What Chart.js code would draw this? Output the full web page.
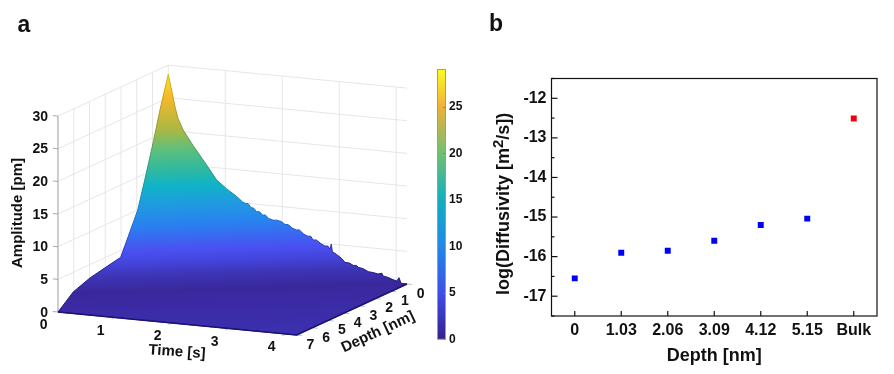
<!DOCTYPE html>
<html>
<head>
<meta charset="utf-8">
<script src="https://cdn.jsdelivr.net/npm/chart.js@4"></script>
<style>
    html, body { margin: 0; padding: 0; background: #fff; }
    #page { position: relative; width: 894px; height: 374px; overflow: hidden; }
    canvas { position: absolute; }
</style>
</head>
<body>
<div id="page">
    <canvas id="surfaceChart" width="430" height="374" style="left:0;top:0"></canvas>
    <canvas id="colorBar" width="50" height="300" style="left:430px;top:50px"></canvas>
    <canvas id="diffusivityChart" width="414" height="374" style="left:480px;top:0"></canvas>
</div>
<script>
// Panel a: amplitude read along the two visible edges of the surface
const timeEdge = [0, .065, .118, .17, .26, .43, .61, .85, 1.025, 1.2, 1.31, 1.36, 1.4, 1.45, 1.5, 1.55, 1.6, 1.66, 1.7, 1.76,
    1.84, 1.9, 1.99, 2.05, 2.1, 2.18, 2.25, 2.3, 2.38, 2.45, 2.5, 2.54, 2.6, 2.68, 2.75, 2.8, 2.84, 2.86, 2.88, 2.95,
    3.04, 3.1, 3.18, 3.25, 3.3, 3.335, 3.42, 3.51, 3.6, 3.68, 3.75, 3.77, 3.85, 3.93, 4.01, 4.05, 4.085, 4.19];
const amplitudeAtDepth0 = [28.6, 25.9, 23.7, 22.0, 20.3, 18.1, 16.0, 13.1, 11.9, 10.9, 10.1, 9.95, 10.0, 9.4, 9.35, 8.85, 8.9, 8.4, 8.5, 8.0,
    7.8, 7.85, 7.7, 7.3, 7.35, 6.85, 6.65, 6.7, 6.1, 5.85, 5.9, 5.35, 5.4, 4.9, 4.6, 4.65, 4.2, 5.0, 3.85, 3.5,
    2.97, 2.4, 2.35, 2.05, 2.1, 1.84, 1.7, 1.32, 1.25, 1.1, 1.27, .87, .75, .5, .3, .85, .02, 0];
const depthEdge = [7, 6.56, 6.03, 4.97, 3.91, 3.02, 2.54, 1.94, 1.48, .95, .53, 0];
const amplitudeAtTime0 = [0, .9, 2.0, 2.95, 3.5, 3.94, 6.6, 9.97, 14.2, 19.3, 23.7, 28.6];

const timeTicks = [0, 1, 2, 3, 4];
const depthTicks = [0, 1, 2, 3, 4, 5, 6, 7];
const amplitudeTicks = [0, 5, 10, 15, 20, 25, 30];
const timeMax = 4.19;
const depthMax = 7;
const amplitudeMax = 30;
const colorRange = [0, 29];

// Panel b
const depthLabels = ["0", "1.03", "2.06", "3.09", "4.12", "5.15", "Bulk"];
const logDiffusivity = [-16.55, -15.9, -15.85, -15.6, -15.2, -15.04, null];
const logDiffusivityBulk = [null, null, null, null, null, null, -12.51];

const FONT = '"Liberation Sans", Arial, sans-serif';

Chart.defaults.animation = false;
Chart.defaults.responsive = false;
Chart.defaults.plugins.legend.display = false;
Chart.defaults.plugins.tooltip.enabled = false;

// orthographic view of the 3D box, the same one the surface was plotted in
function project(t, d, z) {
    return {
        x: 168.3 + 56.97 * t - 15.76 * d,
        y: 261 + 5.49 * t + 7.29 * d - 6.53 * z
    };
}

const GAP = { x: NaN, y: NaN };

function segments(list) {
    const pts = [];
    list.forEach(s => pts.push(project(...s[0]), project(...s[1]), GAP));
    return pts;
}

function gridPoints() {
    const list = [];
    depthTicks.forEach(d => list.push([[0, d, 0], [0, d, amplitudeMax]]));
    timeTicks.slice(1).forEach(t => list.push([[t, 0, 0], [t, 0, amplitudeMax]]));
    amplitudeTicks.forEach(z => {
        list.push([[0, depthMax, z], [0, 0, z]]);
        list.push([[0, 0, z], [timeMax, 0, z]]);
    });
    return segments(list);
}

function axisPoints() {
    const list = [[[0, depthMax, 0], [0, depthMax, amplitudeMax]]];
    amplitudeTicks.forEach(z => list.push([[-0.09, depthMax, z], [0, depthMax, z]]));
    return segments(list);
}

function floorTickPoints() {
    const list = [];
    timeTicks.slice(1).forEach(t => list.push([[t, depthMax, 0], [t, depthMax + 0.22, 0]]));
    depthTicks.forEach(d => list.push([[timeMax, d, 0], [timeMax + 0.09, d, 0]]));
    return segments(list);
}

const surfaceOutline = [];
depthEdge.forEach((d, i) => surfaceOutline.push(project(0, d, amplitudeAtTime0[i])));
timeEdge.forEach((t, i) => surfaceOutline.push(project(t, 0, amplitudeAtDepth0[i])));
surfaceOutline.push(project(timeMax, depthMax, 0));
surfaceOutline.push(project(0, depthMax, 0));

const frontEdge = [project(0, depthMax, 0), project(timeMax, depthMax, 0), project(timeMax, 0, 0)];

// colours of the surface by height on the page
const surfaceStops = [
    [74, "#fde025"], [98, "#f4b82a"], [130, "#a9b845"], [150, "#5cc07d"], [170, "#2fb8a0"],
    [185, "#10b4c6"], [205, "#1f9ae0"], [225, "#2a80f0"], [250, "#4a50f0"], [262, "#4444dc"],
    [275, "#3d34b4"], [290, "#39289c"], [305, "#3b2aa4"], [335, "#3b30b0"]
];
const edgeStops = [
    [74, "#d8b818"], [98, "#cc9a20"], [130, "#8a9a34"], [150, "#44a068"], [170, "#1f9c88"],
    [185, "#0c98aa"], [205, "#1680c4"], [225, "#1f60d0"], [250, "#2c30c0"], [265, "#201c88"],
    [335, "#1c1470"]
];

function pageGradient(chart, stops) {
    const g = chart.ctx.createLinearGradient(168, 74, 176.5, 340);
    stops.forEach(s => g.addColorStop((s[0] - 74) / 266, s[1]));
    return g;
}

function text(ctx, str, x, y, size, angle) {
    ctx.save();
    ctx.translate(x, y);
    ctx.rotate((angle || 0) * Math.PI / 180);
    ctx.font = `bold ${size}px ${FONT}`;
    ctx.fillStyle = "#111";
    ctx.textAlign = "center";
    ctx.textBaseline = "middle";
    ctx.fillText(str, 0, 0);
    ctx.restore();
}

const surfaceLabels = {
    id: "surfaceLabels",
    afterDraw(chart) {
        const ctx = chart.ctx;
        const sx = chart.scales.x, sy = chart.scales.y;
        amplitudeTicks.forEach(z => {
            const p = project(0, depthMax, z);
            ctx.save();
            ctx.font = `bold 14px ${FONT}`;
            ctx.fillStyle = "#111";
            ctx.textAlign = "right";
            ctx.textBaseline = "middle";
            ctx.fillText(String(z), sx.getPixelForValue(p.x) - 10, sy.getPixelForValue(p.y) + 0.8);
            ctx.restore();
        });
        timeTicks.forEach(t => {
            const p = project(t, depthMax, 0);
            text(ctx, String(t), sx.getPixelForValue(p.x) - 14.3, sy.getPixelForValue(p.y) + 13.5, 14);
        });
        depthTicks.forEach(d => {
            const p = project(timeMax, d, 0);
            text(ctx, String(d), sx.getPixelForValue(p.x) + 13.7, sy.getPixelForValue(p.y) + 10, 14);
        });
        text(ctx, "Amplitude [pm]", 18, 213, 15, -90);
        text(ctx, "Time [s]", 177, 352, 15, 4);
        text(ctx, "Depth [nm]", 378, 332, 15, -25);
        text(ctx, "a", 24, 25.5, 23);
    }
};

new Chart(document.getElementById("surfaceChart"), {
    type: "scatter",
    data: {
        datasets: [
            {
                data: frontEdge, showLine: true, pointRadius: 0, borderColor: "#1c1470", borderWidth: 1.5, order: 0
            },
            {
                data: surfaceOutline, showLine: true, pointRadius: 0, order: 1, borderWidth: 1, fill: "shape", tension: 0,
                backgroundColor: c => c.chart.chartArea ? pageGradient(c.chart, surfaceStops) : "#3b30b0",
                borderColor: c => c.chart.chartArea ? pageGradient(c.chart, edgeStops) : "#1c1470"
            },
            {
                data: floorTickPoints(), showLine: true, pointRadius: 0, borderColor: "#bdbdbd", borderWidth: 1, order: 2
            },
            {
                data: axisPoints(), showLine: true, pointRadius: 0, borderColor: "#a8a8a8", borderWidth: 1, order: 3
            },
            {
                data: gridPoints(), showLine: true, pointRadius: 0, borderColor: "#e6e6e6", borderWidth: 1, order: 4
            }
        ]
    },
    options: {
        layout: { padding: 0 },
        scales: {
            x: { type: "linear", min: 0, max: 430, display: false },
            y: { type: "linear", min: 0, max: 374, reverse: true, display: false }
        }
    },
    plugins: [surfaceLabels]
});

// colour bar
const colorStops = [
    [0, "#35208e"], [5, "#3f4fe8"], [10, "#2088e8"], [15, "#10b0c0"], [20, "#70c070"], [25, "#f0b038"], [29, "#fcfc20"]
];

const colorBarTicks = {
    id: "colorBarTicks",
    afterDraw(chart) {
        const ctx = chart.ctx, y = chart.scales.y, area = chart.chartArea;
        ctx.strokeStyle = "#777";
        ctx.lineWidth = 1;
        y.ticks.forEach(t => {
            const py = Math.round(y.getPixelForValue(t.value)) + 0.5;
            ctx.beginPath();
            ctx.moveTo(area.right - 2, py);
            ctx.lineTo(area.right, py);
            ctx.stroke();
        });
        ctx.strokeStyle = "#a0a070";
        ctx.strokeRect(area.left, area.top, area.right - area.left, area.bottom - area.top);
    }
};

new Chart(document.getElementById("colorBar"), {
    type: "bar",
    data: {
        labels: [""],
        datasets: [{
            data: [colorRange],
            barPercentage: 1,
            categoryPercentage: 1,
            backgroundColor: c => {
                const y = c.chart.scales.y;
                if (!c.chart.chartArea || !y) return "#2088e8";
                const g = c.chart.ctx.createLinearGradient(0, y.getPixelForValue(0), 0, y.getPixelForValue(29));
                colorStops.forEach(s => g.addColorStop(s[0] / 29, s[1]));
                return g;
            }
        }]
    },
    options: {
        layout: { padding: { left: 7.5, top: 19.5, bottom: 10.5, right: 0 } },
        scales: {
            x: { display: false },
            y: {
                position: "right",
                min: 0,
                max: 29,
                grid: { display: false, drawTicks: false },
                border: { display: false },
                afterFit: s => { s.width = 34.5; },
                ticks: {
                    stepSize: 5,
                    includeBounds: false,
                    padding: 3.5,
                    color: "#111",
                    font: { family: FONT, weight: "bold", size: 12 }
                }
            }
        }
    },
    plugins: [colorBarTicks]
});

// Panel b
const frameAndTicks = {
    id: "frameAndTicks",
    afterDraw(chart) {
        const ctx = chart.ctx, area = chart.chartArea;
        const x = chart.scales.x, y = chart.scales.y;
        ctx.save();
        ctx.strokeStyle = "#111";
        ctx.lineWidth = 1.2;
        ctx.strokeRect(area.left, area.top, area.right - area.left, area.bottom - area.top);
        x.ticks.forEach((t, i) => {
            const px = x.getPixelForTick(i);
            ctx.beginPath();
            ctx.moveTo(px, area.bottom);
            ctx.lineTo(px, area.bottom - 5);
            ctx.stroke();
        });
        y.ticks.forEach(t => {
            const py = y.getPixelForValue(t.value);
            const len = Number.isInteger(t.value) ? 6 : 3;
            ctx.beginPath();
            ctx.moveTo(area.left, py);
            ctx.lineTo(area.left + len, py);
            ctx.stroke();
        });
        ctx.restore();

        // y title, with the raised 2
        ctx.save();
        ctx.translate(29.3, 295);
        ctx.rotate(-Math.PI / 2);
        ctx.fillStyle = "#111";
        ctx.textBaseline = "alphabetic";
        ctx.font = `bold 18px ${FONT}`;
        const first = "log(Diffusivity [m";
        ctx.fillText(first, 0, 0);
        let w = ctx.measureText(first).width;
        ctx.font = `bold 15px ${FONT}`;
        ctx.fillText("2", w, -6.5);
        w += ctx.measureText("2").width;
        ctx.font = `bold 18px ${FONT}`;
        ctx.fillText("/s])", w, 0);
        ctx.restore();

        text(ctx, "b", 16, 25, 23);
    }
};

new Chart(document.getElementById("diffusivityChart"), {
    type: "line",
    data: {
        labels: depthLabels,
        datasets: [
            {
                data: logDiffusivity, showLine: false, pointStyle: "rect", pointRadius: 4.2,
                pointBackgroundColor: "#0000f5", pointBorderWidth: 0
            },
            {
                data: logDiffusivityBulk, showLine: false, pointStyle: "rect", pointRadius: 4.2,
                pointBackgroundColor: "#f00010", pointBorderWidth: 0
            }
        ]
    },
    options: {
        layout: { padding: { top: 78.5, right: 17, left: 0, bottom: 0 } },
        scales: {
            x: {
                offset: true,
                grid: { display: false, drawTicks: false },
                border: { display: false },
                afterFit: s => { s.height = 58; },
                ticks: {
                    padding: 5,
                    maxRotation: 0,
                    autoSkip: false,
                    color: "#111",
                    font: { family: FONT, weight: "bold", size: 16 }
                },
                title: {
                    display: true,
                    text: "Depth [nm]",
                    color: "#111",
                    padding: { top: 0, bottom: 7 },
                    font: { family: FONT, weight: "bold", size: 18 }
                }
            },
            y: {
                min: -17.5,
                max: -11.5,
                grid: { display: false, drawTicks: false },
                border: { display: false },
                afterFit: s => { s.width = 71.5; },
                ticks: {
                    stepSize: 0.5,
                    padding: 5,
                    autoSkip: false,
                    color: "#111",
                    font: { family: FONT, weight: "bold", size: 16 },
                    callback: v => Number.isInteger(v) ? String(v) : ""
                }
            }
        }
    },
    plugins: [frameAndTicks]
});
</script>
</body>
</html>
